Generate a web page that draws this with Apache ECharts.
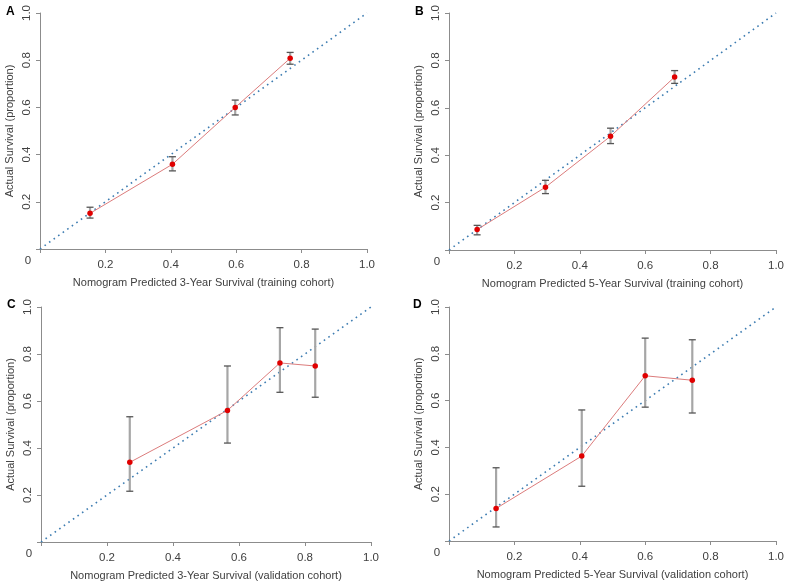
<!DOCTYPE html>
<html>
<head>
<meta charset="utf-8">
<script src="https://cdn.jsdelivr.net/npm/echarts@6/dist/echarts.min.js"></script>
<style>
  html, body { margin: 0; padding: 0; background: #fff; }
  #main { width: 787px; height: 583px; }
</style>
</head>
<body>
<div id="main"></div>
<script>
// panel letters and axis titles
var panelLetters = ['A', 'B', 'C', 'D'];
var xTitles = [
  'Nomogram Predicted 3-Year Survival (training cohort)',
  'Nomogram Predicted 5-Year Survival (training cohort)',
  'Nomogram Predicted 3-Year Survival (validation cohort)',
  'Nomogram Predicted 5-Year Survival (validation cohort)'
];
var yTitle = 'Actual Survival (proportion)';
var tickLabels = ['0.2', '0.4', '0.6', '0.8', '1.0'];

// A: 3-year training
var predA = [0.153, 0.405, 0.597, 0.765];
var obsA  = [0.151, 0.359, 0.600, 0.808];
var lowA  = [0.131, 0.331, 0.568, 0.783];
var highA = [0.177, 0.391, 0.631, 0.833];
// B: 5-year training
var predB = [0.086, 0.295, 0.494, 0.690];
var obsB  = [0.086, 0.265, 0.480, 0.730];
var lowB  = [0.064, 0.238, 0.449, 0.703];
var highB = [0.104, 0.294, 0.514, 0.757];
// C: 3-year validation
var predC = [0.269, 0.565, 0.724, 0.831];
var obsC  = [0.339, 0.560, 0.762, 0.749];
var lowC  = [0.216, 0.421, 0.637, 0.616];
var highC = [0.533, 0.749, 0.912, 0.906];
// D: 5-year validation
var predD = [0.144, 0.406, 0.600, 0.744];
var obsD  = [0.139, 0.363, 0.706, 0.687];
var lowD  = [0.060, 0.234, 0.572, 0.547];
var highD = [0.313, 0.560, 0.867, 0.860];

// ideal line
var diagonal = [[0, 0], [1, 1]];

var panels = [
  {pred: predA, obs: obsA, low: lowA, high: highA},
  {pred: predB, obs: obsB, low: lowB, high: highB},
  {pred: predC, obs: obsC, low: lowC, high: highC},
  {pred: predD, obs: obsD, low: lowD, high: highD}
];

// grid boxes (left, top, width, height) for the 4 panels
var grids = [
  {left: 40,  top: 13,  width: 327, height: 236},
  {left: 449, top: 13,  width: 329, height: 237},
  {left: 41,  top: 307, width: 330, height: 235},
  {left: 449, top: 307, width: 329, height: 234}
];

var fontFam = 'Liberation Sans, Arial, sans-serif';
var textCol = '#404040';
var axisCol = '#8c8c8c';

function fmtTick(v) {
  if (v < 0.01) return '';
  var i = Math.round(v * 5) - 1;
  return tickLabels[i];
}

var xAxes = [], yAxes = [], series = [], gridOpts = [];
grids.forEach(function(g, i) {
  gridOpts.push({left: g.left, top: g.top, width: g.width, height: g.height, containLabel: false});
  xAxes.push({
    gridIndex: i, type: 'value', min: 0, max: 1, interval: 0.2,
    name: xTitles[i], nameLocation: 'middle', nameGap: 28,
    nameTextStyle: {color: textCol, fontSize: 11, fontFamily: fontFam},
    axisLine: {show: true, lineStyle: {color: axisCol, width: 1}},
    axisTick: {show: true, length: 4, lineStyle: {color: axisCol}},
    axisLabel: {color: textCol, fontSize: 11.5, fontFamily: fontFam, margin: 10, formatter: fmtTick},
    splitLine: {show: false}
  });
  yAxes.push({
    gridIndex: i, type: 'value', min: 0, max: 1, interval: 0.2,
    name: yTitle, nameLocation: 'middle', nameGap: 25, nameRotate: 90,
    nameTextStyle: {color: textCol, fontSize: 11, fontFamily: fontFam},
    axisLine: {show: true, lineStyle: {color: axisCol, width: 1}},
    axisTick: {show: true, length: 4, lineStyle: {color: axisCol}},
    axisLabel: {color: textCol, fontSize: 11.5, fontFamily: fontFam, margin: 7, rotate: 90, formatter: fmtTick},
    splitLine: {show: false}
  });

  var p = panels[i];
  // dotted ideal line
  series.push({
    type: 'line', xAxisIndex: i, yAxisIndex: i, data: diagonal,
    symbol: 'none', silent: true, z: 2,
    lineStyle: {color: '#3d7cb1', width: 1.6, type: [1.6, 4]}
  });
  // error bars
  var bars = p.pred.map(function(x, k) { return [x, p.low[k], p.high[k]]; });
  series.push({
    type: 'custom', xAxisIndex: i, yAxisIndex: i, data: bars, z: 3,
    renderItem: function(params, api) {
      var top = api.coord([api.value(0), api.value(2)]);
      var bot = api.coord([api.value(0), api.value(1)]);
      var hw = 3.5;
      return {type: 'group', children: [
        {type: 'line', shape: {x1: top[0], y1: top[1], x2: bot[0], y2: bot[1]},
         style: {stroke: '#a6a6a6', lineWidth: 2.2}},
        {type: 'line', shape: {x1: top[0] - hw, y1: top[1], x2: top[0] + hw, y2: top[1]},
         style: {stroke: '#555', lineWidth: 1.3}},
        {type: 'line', shape: {x1: bot[0] - hw, y1: bot[1], x2: bot[0] + hw, y2: bot[1]},
         style: {stroke: '#555', lineWidth: 1.3}}
      ]};
    }
  });
  // calibration curve
  var pts = p.pred.map(function(x, k) { return [x, p.obs[k]]; });
  series.push({
    type: 'line', xAxisIndex: i, yAxisIndex: i, data: pts, z: 4,
    symbol: 'circle', symbolSize: 5.5,
    itemStyle: {color: '#e00000'},
    lineStyle: {color: '#dc7c7c', width: 1}
  });
});

var myChart = echarts.init(document.getElementById('main'), null, {renderer: 'canvas'});
myChart.setOption({
  animation: false,
  backgroundColor: '#fff',
  grid: gridOpts,
  xAxis: xAxes,
  yAxis: yAxes,
  series: series
});

// panel letters and the shared "0" at each origin
var graphics = [];
var letterPos = [[6, 6], [415, 6], [7, 299], [413, 299]];
grids.forEach(function(g, i) {
  var o = myChart.convertToPixel({gridIndex: i}, [0, 0]);
  graphics.push({
    type: 'text', left: letterPos[i][0], top: letterPos[i][1],
    style: {text: panelLetters[i], fill: '#000', font: 'bold 12px ' + fontFam}
  });
  graphics.push({
    type: 'text', x: o[0] - 12, y: o[1] + 12,
    style: {text: '0', fill: textCol, font: '11.5px ' + fontFam, align: 'center', verticalAlign: 'middle'}
  });
});
myChart.setOption({graphic: graphics});
</script>
</body>
</html>
